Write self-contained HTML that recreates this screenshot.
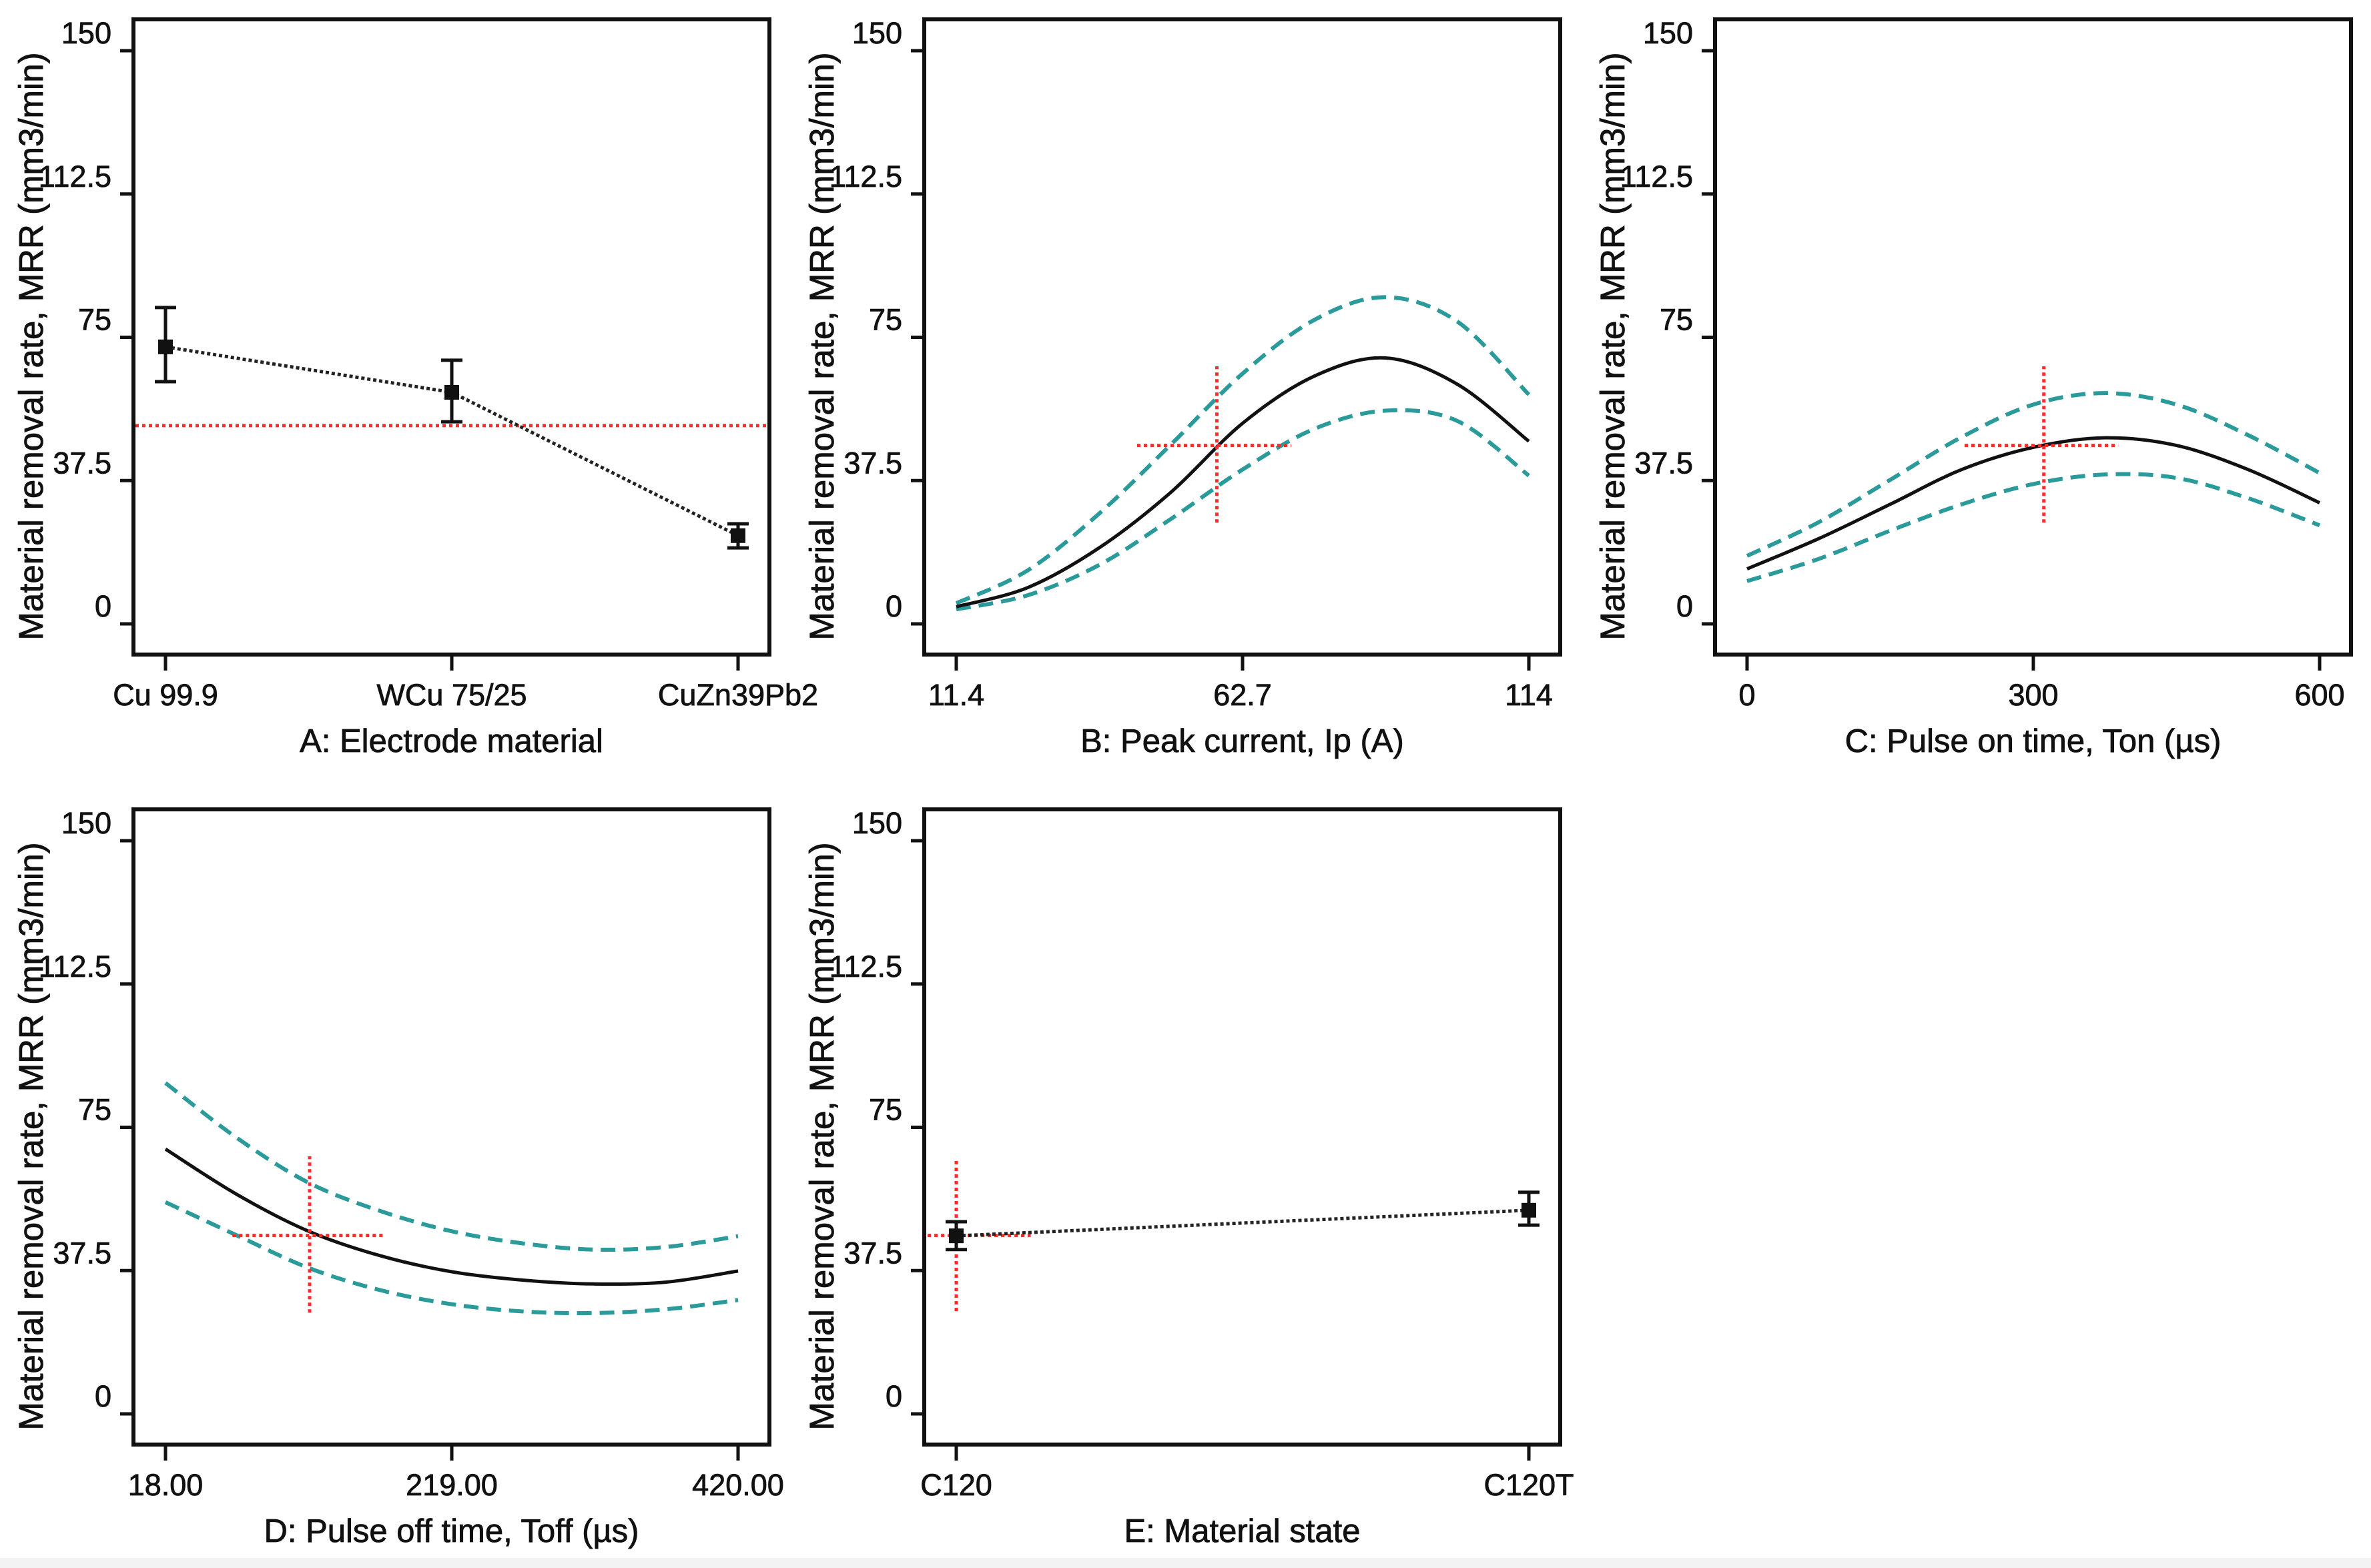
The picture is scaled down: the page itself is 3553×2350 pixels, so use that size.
<!DOCTYPE html>
<html><head><meta charset="utf-8">
<style>
html,body{margin:0;padding:0;background:#fff;}
svg{display:block;}
text{font-family:"Liberation Sans",sans-serif;fill:#111;stroke:#111;stroke-width:0.8px;}
</style></head>
<body>
<svg id="fig" width="3553" height="2350" viewBox="0 0 3553 2350" xmlns="http://www.w3.org/2000/svg">
<rect x="0" y="2335" width="3553" height="15" fill="#f3f3f3"/>
</svg>
<script>
// ---- shared axis data ----
const yTickValues = [0, 37.5, 75, 112.5, 150];
const yTickLabels = ["0", "37.5", "75", "112.5", "150"];
// ---- panel A ----
const aCategories = ["Cu 99.9", "WCu 75/25", "CuZn39Pb2"];
const aMeans = [72.5, 60.6, 23.1];
const aLow = [63.4, 52.9, 19.9];
const aHigh = [82.8, 69.0, 26.2];
const aRefLine = 51.9;
// ---- panel B ----
const bTicks = [11.4, 62.7, 114];
const bTickLabels = ["11.4", "62.7", "114"];
const bX = [11.4, 24.2, 37.1, 49.9, 62.7, 75.5, 88.3, 101.2, 114];
const bMean = [4.5, 9.5, 20.0, 34.5, 52.5, 64.8, 69.6, 62.7, 47.8];
const bUpper = [5.4, 14.0, 29.0, 47.0, 65.5, 79.5, 85.5, 79.1, 60.0];
const bLower = [3.8, 7.5, 15.5, 27.5, 40.4, 51.0, 55.8, 53.1, 38.8];
const bCross = [58.1, 46.7, 43.8, 71.4, 26.5, 67.4];
// ---- panel C ----
const cTicks = [0, 300, 600];
const cTickLabels = ["0", "300", "600"];
const cX = [0, 75, 150, 225, 300, 375, 450, 525, 600];
const cMean = [14.4, 22.3, 31.3, 40.4, 46.2, 48.7, 46.7, 40.4, 31.7];
const cUpper = [17.8, 26.6, 37.7, 48.9, 57.4, 60.4, 57.4, 49.4, 39.5];
const cLower = [11.2, 17.0, 24.4, 31.3, 36.6, 39.1, 38.2, 32.9, 25.8];
const cCross = [311, 46.7, 228, 389, 26.5, 67.4];
// ---- panel D ----
const dTicks = [18, 219, 420];
const dTickLabels = ["18.00", "219.00", "420.00"];
const dX = [18, 68.25, 118.5, 168.75, 219, 269.25, 319.5, 369.75, 420];
const dMean = [69.3, 57.4, 47.8, 41.4, 37.2, 35.0, 34.0, 34.5, 37.4];
const dUpper = [86.6, 72.2, 60.5, 53.1, 47.8, 44.6, 43.0, 43.7, 46.5];
const dLower = [55.4, 46.7, 38.2, 32.4, 28.7, 26.8, 26.4, 27.4, 29.8];
const dCross = [119.2, 46.7, 65, 172, 26.5, 67.4];
// ---- panel E ----
const eCategories = ["C120", "C120T"];
const eMeans = [46.6, 53.3];
const eLow = [43.0, 49.4];
const eHigh = [50.3, 58.0];
const eCross = [0, 46.7, -0.05, 0.13, 26.9, 67.0];

const NS = "http://www.w3.org/2000/svg";
const svg = document.getElementById("fig");
const BOXW = 953, BOXH = 952;
function mk(tag, attrs, parent) {
  const el = document.createElementNS(NS, tag);
  for (const k in attrs) el.setAttribute(k, attrs[k]);
  (parent || svg).appendChild(el);
  return el;
}
function smoothPath(pts) {
  let d = "M" + pts[0][0] + "," + pts[0][1];
  for (let i = 0; i < pts.length - 1; i++) {
    const p0 = pts[i - 1] || pts[i], p1 = pts[i], p2 = pts[i + 1], p3 = pts[i + 2] || pts[i + 1];
    const c1x = p1[0] + (p2[0] - p0[0]) / 6, c1y = p1[1] + (p2[1] - p0[1]) / 6;
    const c2x = p2[0] - (p3[0] - p1[0]) / 6, c2y = p2[1] - (p3[1] - p1[1]) / 6;
    d += " C" + c1x + "," + c1y + " " + c2x + "," + c2y + " " + p2[0] + "," + p2[1];
  }
  return d;
}

function panel(id, left, top, xMin, xMax, xTickVals, xTickLabs, title) {
  const g = mk("g", {});
  
  
  const xs = v => left + 48 + (v - xMin) / (xMax - xMin) * 858;
  const ys = v => top + 47 + (150 - v) * 5.727;
  const box = mk("rect", {x: left, y: top, width: BOXW, height: BOXH, fill: "none", stroke: "#111", "stroke-width": 6}, g);
  
  
  yTickValues.forEach((v, i) => {
    const t = mk("line", {x1: left - 20, x2: left, y1: ys(v), y2: ys(v), stroke: "#111", "stroke-width": 5}, g);
    
    
    const lb = mk("text", {x: left - 33, y: ys(v) - 11, "font-size": 45, "text-anchor": "end"}, g);
    lb.textContent = yTickLabels[i];
    
    
  });
  xTickVals.forEach((v, i) => {
    const t = mk("line", {x1: xs(v), x2: xs(v), y1: top + BOXH, y2: top + BOXH + 24, stroke: "#111", "stroke-width": 5}, g);
    
    
    const lb = mk("text", {x: xs(v), y: top + BOXH + 76, "font-size": 45, "text-anchor": "middle"}, g);
    lb.textContent = xTickLabs[i];
    
    
  });
  const yl = mk("text", {x: 0, y: 0, "font-size": 51, "text-anchor": "middle",
    transform: "translate(" + (left - 136) + "," + (top + 490) + ") rotate(-90)"}, g);
  yl.textContent = "Material removal rate, MRR (mm3/min)";
  
  
  const xt = mk("text", {x: left + BOXW / 2, y: top + BOXH + 146, "font-size": 49, "text-anchor": "middle"}, g);
  xt.textContent = title;
  
  
  return {g, xs, ys};
}

function curves(p, name, X, mean, up, lo) {
  [[up, "upper"], [lo, "lower"]].forEach(([arr, nm]) => {
    const c = mk("path", {d: smoothPath(X.map((x, i) => [p.xs(x), p.ys(arr[i])])), fill: "none",
      stroke: "#2a9a9a", "stroke-width": 6, "stroke-dasharray": "22 12"}, p.g);
    
    
  });
  const m = mk("path", {d: smoothPath(X.map((x, i) => [p.xs(x), p.ys(mean[i])])), fill: "none",
    stroke: "#111", "stroke-width": 5}, p.g);
  
  
}
function cross(p, name, c) {
  const h = mk("line", {x1: p.xs(c[2]), x2: p.xs(c[3]), y1: p.ys(c[1]), y2: p.ys(c[1]),
    stroke: "#ff2a2a", "stroke-width": 5, "stroke-dasharray": "5 5"}, p.g);
  
  
  const v = mk("line", {x1: p.xs(c[0]), x2: p.xs(c[0]), y1: p.ys(c[4]), y2: p.ys(c[5]),
    stroke: "#ff2a2a", "stroke-width": 5, "stroke-dasharray": "5 5"}, p.g);
  
  
}
function points(p, name, means, low, high) {
  const pl = mk("polyline", {points: means.map((m, i) => p.xs(i) + "," + p.ys(m)).join(" "), fill: "none",
    stroke: "#222", "stroke-width": 5, "stroke-dasharray": "5 4"}, p.g);
  
  
  means.forEach((m, i) => {
    const x = p.xs(i);
    const eb = mk("path", {d: "M" + (x - 16) + "," + p.ys(high[i]) + "H" + (x + 16) + "M" + x + "," + p.ys(high[i]) +
      "V" + p.ys(low[i]) + "M" + (x - 16) + "," + p.ys(low[i]) + "H" + (x + 16), fill: "none", stroke: "#111", "stroke-width": 5}, p.g);
    
    
    const pt = mk("rect", {x: x - 11, y: p.ys(m) - 11, width: 22, height: 22, fill: "#111"}, p.g);
    
    
  });
}

// Panel A
const pA = panel("a", 200, 29, 0, 2, [0, 1, 2], aCategories, "A: Electrode material");
const ref = mk("line", {x1: 203, x2: 1150, y1: pA.ys(aRefLine), y2: pA.ys(aRefLine), stroke: "#ff2a2a", "stroke-width": 5, "stroke-dasharray": "5 5"}, pA.g);


points(pA, "a", aMeans, aLow, aHigh);

// Panel B
const pB = panel("b", 1385, 29, 11.4, 114, bTicks, bTickLabels, "B: Peak current, Ip (A)");
curves(pB, "b", bX, bMean, bUpper, bLower);
cross(pB, "b", bCross);

// Panel C
const pC = panel("c", 2570, 29, 0, 600, cTicks, cTickLabels, "C: Pulse on time, Ton (\u00b5s)");
curves(pC, "c", cX, cMean, cUpper, cLower);
cross(pC, "c", cCross);

// Panel D
const pD = panel("d", 200, 1213, 18, 420, dTicks, dTickLabels, "D: Pulse off time, Toff (\u00b5s)");
curves(pD, "d", dX, dMean, dUpper, dLower);
cross(pD, "d", dCross);

// Panel E
const pE = panel("e", 1385, 1213, 0, 1, [0, 1], eCategories, "E: Material state");
cross(pE, "e", eCross);
points(pE, "e", eMeans, eLow, eHigh);
</script>
</body></html>
